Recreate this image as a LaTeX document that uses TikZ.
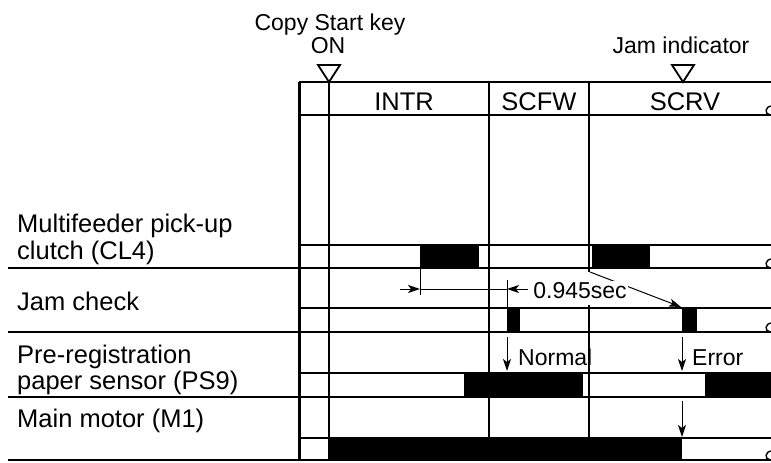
\documentclass[tikz,border=0pt]{standalone}
\usepackage{fontspec}
\setmainfont{Liberation Sans}
\usetikzlibrary{arrows.meta}
\begin{document}
\begin{tikzpicture}[x=1pt,y=-1pt,
    rule/.style={line width=2.2pt},
    edge/.style={line width=3pt},
    on/.style={fill=black},
    guide/.style={line width=1pt},
    tip/.style={guide,-{Stealth[length=12pt,width=8pt,inset=3pt]}},
    trig/.style={line width=1.8pt,line join=miter},
    lbl/.style={font=\fontsize{25.5}{26}\selectfont,anchor=base west,inner sep=0pt},
    hdr/.style={font=\fontsize{25.5}{26}\selectfont,anchor=base,inner sep=0pt},
    note/.style={font=\fontsize{23}{24}\selectfont,anchor=base,inner sep=0pt}]
\useasboundingbox (0,0) rectangle (771,463);

% signals that are on
\fill[on] (420,245) rectangle (479,268);
\fill[on] (592,245) rectangle (650,268);
\fill[on] (507,308) rectangle (520,332);
\fill[on] (682,308) rectangle (697,332);
\fill[on] (464,373) rectangle (583,397);
\fill[on] (705,373) rectangle (771,397);
\fill[on] (329,438) rectangle (682,460);

% frame and time steps
\draw[rule] (299,82) -- (771,82);
\foreach \y in {115,245,308,373,438}
    \draw[rule] (299,\y) -- (771,\y);
\foreach \y in {268,332,397,460}
    \draw[rule] (8,\y) -- (771,\y);
\draw[edge] (299,82) -- (299,461);
\draw[rule] (329,82) -- (329,461);
\draw[rule] (489,82) -- (489,438);
\draw[rule] (589,82) -- (589,272);
\draw[rule] (589,305) -- (589,438);
\foreach \y in {115,268,332,460}
    \draw[line width=1.4pt] (772,\y-9) .. controls (765,\y-9) and (764,\y-1) .. (770,\y);

% event marks
\draw[trig] (318,65) -- (340,65) -- (329,82) -- cycle;
\draw[trig] (672,65) -- (694,65) -- (683,82) -- cycle;
\node[note] (copykey) at (330,30) {Copy Start key};
\node[note] (copyon) at (328,53) {ON};
\node[note] (jamind) at (681,53) {Jam indicator};

% sequence names
\node[hdr] (intr) at (404,110) {INTR};
\node[hdr] (scfw) at (539,110) {SCFW};
\node[hdr] (scrv) at (685,110) {SCRV};

% loads and sensors
\node[lbl] (cl4a) at (17,232) {Multifeeder pick-up};
\node[lbl] (cl4b) at (17,259) {clutch (CL4)};
\node[lbl] (jamchk) at (17,310) {Jam check};
\node[lbl] (ps9a) at (17,363) {Pre-registration};
\node[lbl] (ps9b) at (17,389) {paper sensor (PS9)};
\node[lbl] (m1) at (17,427) {Main motor (M1)};

% jam check delay
\coordinate (cl4on) at (420,289);
\coordinate (chkon) at (507,289);
\coordinate (cl4on2) at (590,272);
\coordinate (chkon2) at (681,307);
\draw[guide] (420,268) -- (420,295);
\draw[guide] (507,280) -- (507,308);
\draw[guide] (cl4on) -- (chkon);
\draw[tip] (400,289) -- (cl4on);
\draw[tip] (528,289) -- (chkon);
\draw[tip] (cl4on2) -- (chkon2);
\node[note,fill=white,inner sep=1pt] (delay) at (580,298) {0.945sec};

% results of the check
\coordinate (normtop) at (507,337);
\coordinate (normbot) at (507,371);
\coordinate (errtop) at (682,337);
\coordinate (errbot) at (682,371);
\coordinate (stoptop) at (682,401);
\coordinate (stopbot) at (682,437);
\draw[tip] (normtop) -- (normbot);
\draw[tip] (errtop) -- (errbot);
\draw[tip] (stoptop) -- (stopbot);
\node[note,anchor=base west] (normal) at (518,365) {Normal};
\node[note,anchor=base west] (error) at (692,365) {Error};
\end{tikzpicture}
\end{document}
